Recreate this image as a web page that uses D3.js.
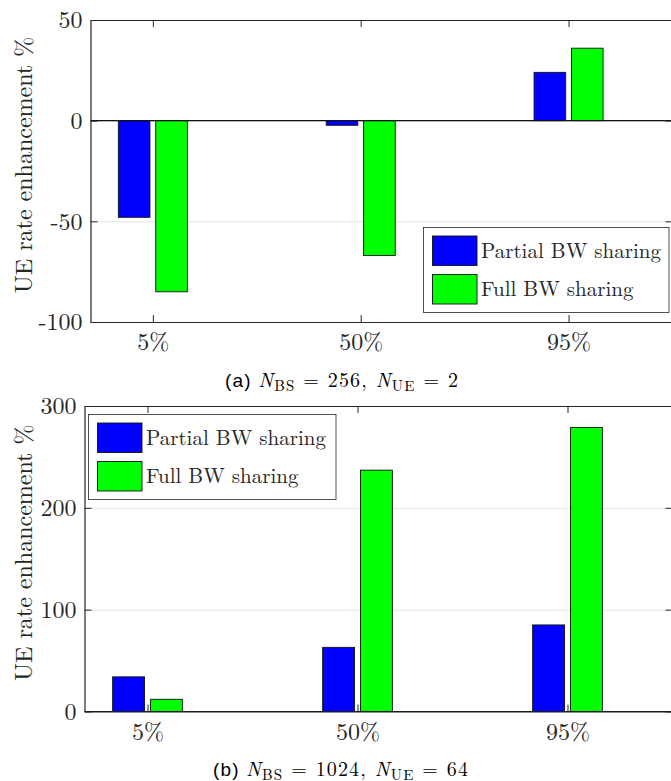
<!DOCTYPE html>
<html>
<head>
<meta charset="utf-8">
<script src="https://cdn.jsdelivr.net/npm/d3@7"></script>
<style>
  body { margin: 0; background: #fff; }
</style>
</head>
<body>
<svg id="chart" width="671" height="781"></svg>
<script>
// data
var categories = ["5%", "50%", "95%"];
var seriesNames = ["Partial BW sharing", "Full BW sharing"];
var seriesColors = ["#0000ff", "#00ff00"];

// (a) N_BS = 256, N_UE = 2
var partialA = [-48, -2.3, 24];
var fullA = [-85, -67, 36];
var ticksA = [-100, -50, 0, 50];

// (b) N_BS = 1024, N_UE = 64
var partialB = [34, 63, 85];
var fullB = [12, 237, 279];
var ticksB = [0, 100, 200, 300];

var serif = "Latin Modern Roman";
var sans = "Liberation Sans";
var svg = d3.select("#chart").style("font-family", serif);

var barW = 0.152, barOff = 0.09, tickLen = 7;

function drawPanel(opt) {
  var x = d3.scaleLinear().domain([0.7, 3.5]).range([opt.left, opt.right]);
  var y = d3.scaleLinear().domain(opt.ydomain).range([opt.bottom, opt.top]);
  var g = svg.append("g");

  // grid
  g.append("g")
    .attr("transform", "translate(" + opt.left + ",0)")
    .call(d3.axisLeft(y).tickValues(opt.ticks).tickSize(-(opt.right - opt.left)).tickFormat(""))
    .call(function(s) {
      s.select(".domain").remove();
      s.selectAll("line").attr("stroke", "#e3e3e3").attr("stroke-width", 1);
    });

  // bars
  var rows = [];
  opt.series.forEach(function(vals, si) {
    vals.forEach(function(v, i) {
      rows.push({s: si, i: i, v: v});
    });
  });
  g.append("g").selectAll("rect")
    .data(rows)
    .enter().append("rect")
    .attr("x", function(d) { return x(d.i + 1 + (d.s === 0 ? -barOff : barOff) - barW / 2); })
    .attr("width", function(d) { return x(0.7 + barW) - x(0.7); })
    .attr("y", function(d) { return y(Math.max(0, d.v)); })
    .attr("height", function(d) { return Math.abs(y(d.v) - y(0)); })
    .attr("fill", function(d) { return seriesColors[d.s]; })
    .attr("stroke", "#111")
    .attr("stroke-width", 0.9);

  // baseline
  g.append("line")
    .attr("x1", opt.left).attr("x2", opt.right)
    .attr("y1", y(0)).attr("y2", y(0))
    .attr("stroke", "#111").attr("stroke-width", 1.2);

  // axes
  function styleAxis(s) {
    s.attr("font-family", serif);
    s.select(".domain").attr("stroke", "#262626").attr("stroke-width", 1.2);
    s.selectAll(".tick line").attr("stroke", "#262626").attr("stroke-width", 1);
    s.selectAll("text")
      .style("font-family", serif)
      .style("font-size", "24px")
      .attr("fill", "#262626");
  }
  g.append("g")
    .attr("transform", "translate(" + opt.left + ",0)")
    .call(d3.axisLeft(y).tickValues(opt.ticks).tickSizeInner(-tickLen).tickSizeOuter(0).tickPadding(8)
      .tickFormat(function(d) { return String(d); }))
    .call(styleAxis);
  g.append("g")
    .attr("transform", "translate(" + opt.right + ",0)")
    .call(d3.axisRight(y).tickValues(opt.ticks).tickSizeInner(-tickLen).tickSizeOuter(0).tickFormat(""))
    .call(styleAxis);
  g.append("g")
    .attr("transform", "translate(0," + opt.top + ")")
    .call(d3.axisTop(x).tickValues([1, 2, 3]).tickSizeInner(-tickLen).tickSizeOuter(0).tickFormat(""))
    .call(styleAxis);
  g.append("g")
    .attr("transform", "translate(0," + opt.bottom + ")")
    .call(d3.axisBottom(x).tickValues([1, 2, 3]).tickSizeInner(-tickLen).tickSizeOuter(0).tickPadding(11)
      .tickFormat(function(d) { return categories[d - 1]; }))
    .call(styleAxis);

  // y label
  g.append("text")
    .attr("transform", "translate(" + opt.ylabelX + "," + ((opt.top + opt.bottom) / 2 - 6) + ") rotate(-90)")
    .attr("text-anchor", "middle")
    .attr("dy", "0.35em")
    .style("font-family", serif)
    .style("font-size", "24px")
    .attr("fill", "#262626")
    .text("UE rate enhancement %");

  // legend
  var lg = g.append("g").attr("transform", "translate(" + opt.legend[0] + "," + opt.legend[1] + ")");
  lg.append("rect")
    .attr("width", opt.legend[2]).attr("height", 85)
    .attr("fill", "#fff").attr("stroke", "#262626").attr("stroke-width", 0.8);
  seriesNames.forEach(function(name, si) {
    lg.append("rect")
      .attr("x", 9).attr("y", 8.5 + si * 38.5)
      .attr("width", 44.5).attr("height", 29.5)
      .attr("fill", seriesColors[si]).attr("stroke", "#111").attr("stroke-width", 0.9);
    lg.append("text")
      .attr("x", 57.5).attr("y", 23 + si * 38.5)
      .attr("dy", "0.35em")
      .style("font-family", serif)
      .style("font-size", "21px")
      .attr("fill", "#262626")
      .text(name);
  });

  // caption
  var cap = svg.append("text")
    .attr("x", opt.caption[3]).attr("y", opt.captionY)
    .attr("textLength", opt.caption[4])
    .attr("lengthAdjust", "spacing")
    .style("font-family", serif)
    .style("font-size", "20px")
    .attr("fill", "#000");
  cap.append("tspan").style("font-family", sans).style("font-size", "19px").text(opt.caption[0] + " ");
  cap.append("tspan").style("font-style", "italic").text("N");
  cap.append("tspan").attr("dy", 4).style("font-size", "15px").text("BS");
  cap.append("tspan").attr("dy", -4).text(" = " + opt.caption[1] + ", ");
  cap.append("tspan").style("font-style", "italic").text("N");
  cap.append("tspan").attr("dy", 4).style("font-size", "15px").text("UE");
  cap.append("tspan").attr("dy", -4).text(" = " + opt.caption[2]);
}

drawPanel({
  left: 90.5, right: 672.5, top: 20, bottom: 322,
  ydomain: [-100, 50], ticks: ticksA,
  series: [partialA, fullA],
  legend: [423.5, 227.5, 245.5],
  ylabelX: 24,
  captionY: 386.5,
  caption: ["(a)", "256", "2", 225, 233]
});

drawPanel({
  left: 84.5, right: 672.5, top: 406, bottom: 711.5,
  ydomain: [0, 300], ticks: ticksB,
  series: [partialB, fullB],
  legend: [88.5, 414.5, 247.5],
  ylabelX: 24,
  captionY: 775.5,
  caption: ["(b)", "1024", "64", 213, 255]
});
</script>
</body>
</html>
